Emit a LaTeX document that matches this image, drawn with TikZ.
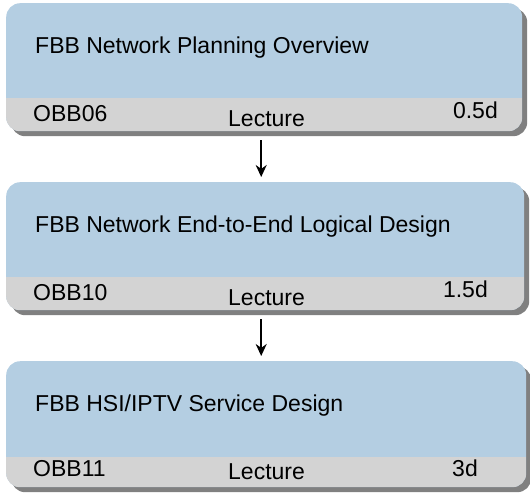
\documentclass[tikz,border=0pt]{standalone}
\usepackage{fontspec}
\setmainfont{Liberation Sans}
\usetikzlibrary{arrows.meta, positioning, shadows}
\definecolor{boxblue}{RGB}{180,206,226}
\definecolor{bargray}{RGB}{211,211,211}
\definecolor{shadowgray}{RGB}{128,128,128}
\tikzset{course/.style={anchor=north west, rectangle, rounded corners=14pt, fill=boxblue, inner sep=0pt, minimum height=128pt,
  drop shadow={shadow xshift=5pt, shadow yshift=-5pt, fill=shadowgray, opacity=1},
  path picture={\fill[bargray, sharp corners] ([yshift=#1]path picture bounding box.south west) rectangle (path picture bounding box.south east);}}}
\tikzstyle{title}=[anchor=base west, inner sep=0pt, font=\fontsize{23}{27}\selectfont]
\tikzstyle{info}=[inner sep=0pt, font=\fontsize{23}{27}\selectfont]
\tikzstyle{flow}=[-{Stealth[length=12pt,width=11pt]}, line width=1.8pt]

\begin{document}
\begin{tikzpicture}[x=1pt, y=-1pt]
\useasboundingbox (0,0) rectangle (530,493);

\node[course=33pt, minimum width=516pt] (lec1) at (6,3) {};
\node[title] (t1) at (35,53) {FBB Network Planning Overview};
\node[info, anchor=base west] (c1) at (33,121.5) {OBB06};
\node[info, anchor=base west] (m1) at (228,126) {Lecture};
\node[info, anchor=base east] (d1) at (498,118) {0.5d};

\node[course=33pt, minimum width=518pt] (lec2) at (6,182) {};
\node[title] (t2) at (35,232) {FBB Network End-to-End Logical Design};
\node[info, anchor=base west] (c2) at (33,300.5) {OBB10};
\node[info, anchor=base west] (m2) at (228,305) {Lecture};
\node[info, anchor=base east] (d2) at (488,297) {1.5d};

\node[course=30pt, minimum width=520pt, minimum height=126pt] (lec3) at (6,361) {};
\node[title] (t3) at (35,411) {FBB HSI/IPTV Service Design};
\node[info, anchor=base west] (c3) at (33,476.5) {OBB11};
\node[info, anchor=base west] (m3) at (228,479.5) {Lecture};
\node[info, anchor=base east] (d3) at (478,476) {3d};

\draw[flow] ([xshift=-3pt,yshift=-9pt]lec1.south) -- ([xshift=-4pt,yshift=5pt]lec2.north);
\draw[flow] ([xshift=-4pt,yshift=-9pt]lec2.south) -- ([xshift=-5pt,yshift=5pt]lec3.north);
\end{tikzpicture}
\end{document}
